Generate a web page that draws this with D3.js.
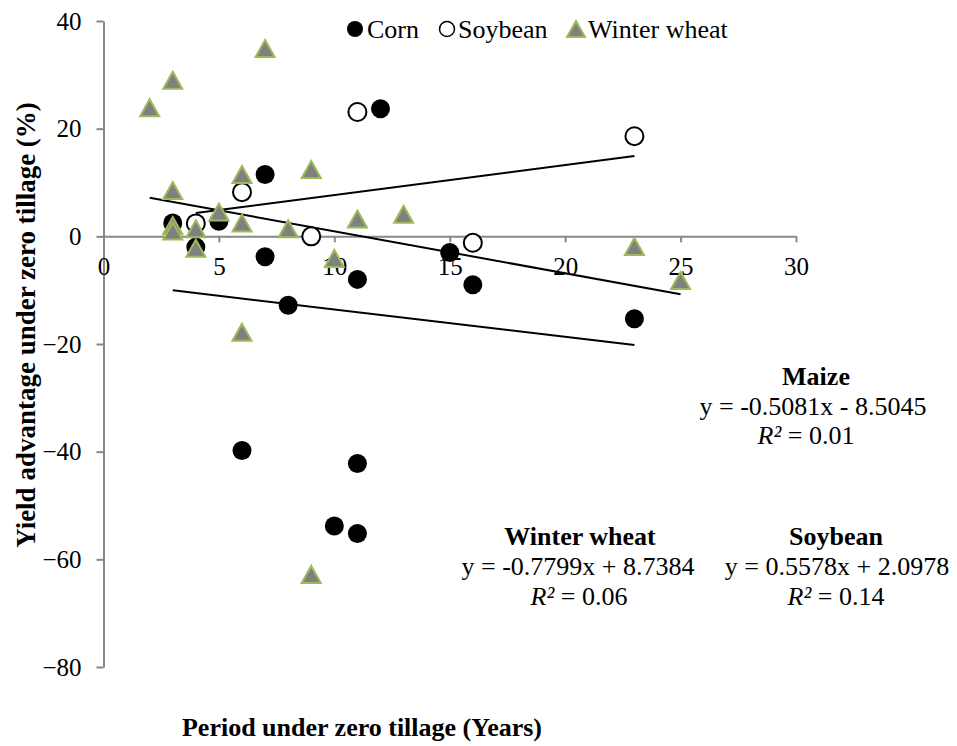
<!DOCTYPE html>
<html>
<head>
<meta charset="utf-8">
<script src="https://cdn.jsdelivr.net/npm/d3@7"></script>
<style>
  body { margin: 0; background: #fff; }
</style>
</head>
<body>
<script>
// values
let cornX = [3, 4, 5, 6, 7, 7, 8, 10, 11, 11, 11, 12, 15, 16, 23];
let cornY = [2.5, -2.0, 2.8, -39.8, 11.5, -3.8, -12.8, -53.8, -8.0, -42.2, -55.2, 23.7, -3.0, -9.0, -15.3];

let soyX = [4, 6, 9, 11, 16, 23];
let soyY = [2.4, 8.2, 0, 23.1, -1.2, 18.6];

let wheatX = [2, 3, 3, 3, 3, 4, 4, 5, 6, 6, 6, 7, 8, 9, 9, 10, 11, 13, 23, 25];
let wheatY = [23.9, 29.0, 8.5, 2.0, 1.0, 1.4, -2.2, 4.5, 11.5, 2.5, -17.8, 34.9, 1.4, 12.4, -62.8, -4.1, 3.2, 4.1, -1.9, -8.2];

// trendlines: [slope, intercept, xFrom, xTo]
let cornFit = [-0.5081, -8.5045, 3, 23];
let soyFit = [0.5578, 2.0978, 4, 23];
let wheatFit = [-0.7799, 8.7384, 2, 25];

let xTicks = [0, 5, 10, 15, 20, 25, 30];
let yTicks = [40, 20, 0, -20, -40, -60, -80];

let legendNames = ["Corn", "Soybean", "Winter wheat"];

let serif = "'Liberation Serif', 'Times New Roman', Times, 'DejaVu Serif', serif";

let svg = d3.select("body")
  .append("svg")
  .attr("width", 957)
  .attr("height", 746)
  .attr("font-family", serif);

let xScale = d3.scaleLinear().domain([0, 30]).range([103.5, 796]);
let yScale = d3.scaleLinear().domain([-80, 40]).range([667, 21]);

let axisColor = "#878787";

// y axis
let yAxis = svg.append("g")
  .attr("transform", `translate(${xScale(0)},0)`)
  .call(d3.axisLeft(yScale).tickValues(yTicks).tickSize(7).tickSizeOuter(0).tickPadding(15))
  .attr("font-family", serif)
  .attr("font-size", 25);
yAxis.select(".domain").attr("stroke", axisColor).attr("stroke-width", 2);
yAxis.selectAll(".tick line").attr("stroke", axisColor).attr("stroke-width", 2);
yAxis.selectAll(".tick text").attr("fill", "#000");

// x axis on the zero line
let xAxis = svg.append("g")
  .attr("transform", `translate(0,${yScale(0)})`)
  .call(d3.axisBottom(xScale).tickValues(xTicks).tickSize(6).tickSizeOuter(0).tickPadding(15))
  .attr("font-family", serif)
  .attr("font-size", 25);
xAxis.select(".domain").attr("stroke", axisColor).attr("stroke-width", 2);
xAxis.selectAll(".tick line").attr("stroke", axisColor).attr("stroke-width", 2);
xAxis.selectAll(".tick text").attr("fill", "#000");

// trendlines
let fits = [cornFit, soyFit, wheatFit];
svg.selectAll("line.fit")
  .data(fits)
  .enter()
  .append("line")
  .attr("class", "fit")
  .attr("x1", d => xScale(d[2]))
  .attr("y1", d => yScale(d[0] * d[2] + d[1]))
  .attr("x2", d => xScale(d[3]))
  .attr("y2", d => yScale(d[0] * d[3] + d[1]))
  .attr("stroke", "#000")
  .attr("stroke-width", 2);

let tri = (w, h) => `M0,${-h / 2}L${w / 2},${h / 2}L${-w / 2},${h / 2}Z`;

// corn
svg.selectAll("circle.corn")
  .data(d3.zip(cornX, cornY))
  .enter()
  .append("circle")
  .attr("class", "corn")
  .attr("cx", d => xScale(d[0]))
  .attr("cy", d => yScale(d[1]))
  .attr("r", 9.5)
  .attr("fill", "#000");

// soybean
svg.selectAll("circle.soy")
  .data(d3.zip(soyX, soyY))
  .enter()
  .append("circle")
  .attr("class", "soy")
  .attr("cx", d => xScale(d[0]))
  .attr("cy", d => yScale(d[1]))
  .attr("r", 9)
  .attr("fill", "#fff")
  .attr("stroke", "#000")
  .attr("stroke-width", 2);

// winter wheat
svg.selectAll("path.wheat")
  .data(d3.zip(wheatX, wheatY))
  .enter()
  .append("path")
  .attr("class", "wheat")
  .attr("transform", d => `translate(${xScale(d[0])},${yScale(d[1])})`)
  .attr("d", tri(19, 17))
  .attr("fill", "#808080")
  .attr("stroke", "#9BBB59")
  .attr("stroke-width", 2);

// legend
let leg = svg.append("g").attr("transform", "translate(0,29)");
leg.append("circle").attr("cx", 355).attr("r", 8).attr("fill", "#000");
leg.append("circle").attr("cx", 447).attr("r", 7.5).attr("fill", "#fff").attr("stroke", "#000").attr("stroke-width", 1.5);
leg.append("path").attr("transform", "translate(576,0)").attr("d", tri(18, 16))
  .attr("fill", "#808080").attr("stroke", "#9BBB59").attr("stroke-width", 2);
leg.selectAll("text")
  .data(legendNames)
  .enter()
  .append("text")
  .attr("x", (d, i) => [367, 458, 588][i])
  .attr("dy", "0.33em")
  .attr("font-size", 26)
  .text(d => d);

// equation labels
let notes = [
  { x: 816, y: 376, t: "Maize", bold: true },
  { x: 813, y: 406, t: "y = -0.5081x - 8.5045" },
  { x: 806, y: 435, t: "R²", r: " = 0.01" },
  { x: 580, y: 536, t: "Winter wheat", bold: true },
  { x: 578, y: 566, t: "y = -0.7799x + 8.7384" },
  { x: 579, y: 596, t: "R²", r: " = 0.06" },
  { x: 836, y: 536, t: "Soybean", bold: true },
  { x: 837, y: 566, t: "y = 0.5578x + 2.0978" },
  { x: 836, y: 596, t: "R²", r: " = 0.14" }
];
notes.forEach(n => {
  let t = svg.append("text")
    .attr("x", n.x)
    .attr("y", n.y)
    .attr("dy", "0.33em")
    .attr("text-anchor", "middle")
    .attr("font-size", 26)
    .attr("font-weight", n.bold ? "bold" : "normal");
  if (n.r) {
    t.append("tspan").attr("font-style", "italic").text(n.t);
    t.append("tspan").text(n.r);
  } else {
    t.text(n.t);
  }
});

// axis titles
svg.append("text")
  .attr("transform", "translate(26,325) rotate(-90)")
  .attr("text-anchor", "middle")
  .attr("dy", "0.33em")
  .attr("font-size", 27)
  .attr("font-weight", "bold")
  .text("Yield advantage under zero tillage (%)");

svg.append("text")
  .attr("x", 362)
  .attr("y", 727)
  .attr("text-anchor", "middle")
  .attr("dy", "0.33em")
  .attr("font-size", 26)
  .attr("font-weight", "bold")
  .text("Period under zero tillage (Years)");
</script>
</body>
</html>
